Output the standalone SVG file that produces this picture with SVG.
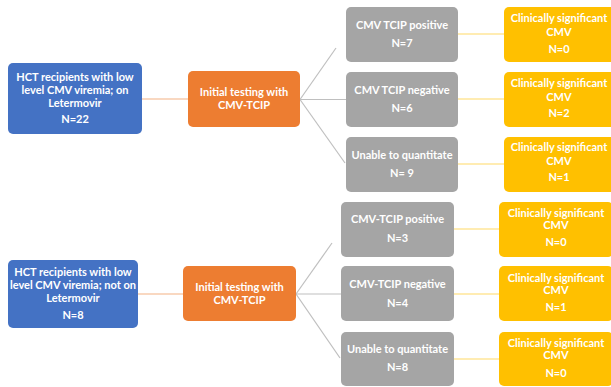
<svg xmlns="http://www.w3.org/2000/svg" width="611" height="387" viewBox="0 0 611 387">
<style>
text{font-family:Lato,"Open Sans","Liberation Sans",sans-serif;font-weight:bold;font-size:11px;fill:#fff;text-anchor:middle}
.blue{fill:#4472C4}.orange{fill:#ED7D31}.gray{fill:#A5A5A5}.yellow{fill:#FFC000}
.c1{stroke:#F4B183;stroke-width:1.2;fill:none}
.c2{stroke:#BFBFBF;stroke-width:1.2;fill:none}
.c3{stroke:#FFD966;stroke-width:1.2;fill:none}
</style>
<rect width="611" height="387" fill="#fff"/>
<g id="connectors">
<line class="c1" x1="142" y1="99" x2="188" y2="99"/>
<line class="c2" x1="300" y1="99.5" x2="336" y2="48"/>
<line class="c2" x1="300" y1="99.5" x2="346" y2="99.5"/>
<line class="c2" x1="300" y1="99.5" x2="345" y2="163"/>
<line class="c3" x1="458" y1="34" x2="504" y2="34"/>
<line class="c3" x1="458" y1="99" x2="504" y2="99"/>
<line class="c3" x1="458" y1="164" x2="504" y2="164"/>
<line class="c1" x1="138" y1="294" x2="183" y2="294"/>
<line class="c2" x1="296" y1="294" x2="332" y2="243"/>
<line class="c2" x1="296" y1="294" x2="341" y2="294"/>
<line class="c2" x1="296" y1="294" x2="340" y2="358"/>
<line class="c3" x1="454" y1="229" x2="499" y2="229"/>
<line class="c3" x1="454" y1="294" x2="499" y2="294"/>
<line class="c3" x1="454" y1="359" x2="499" y2="359"/>
</g>
<g id="blue1"><rect class="blue" x="8" y="63" width="134" height="71" rx="5"/>
<text x="75" y="81">HCT recipients with low</text><text x="75" y="94">level CMV viremia; on</text><text x="75" y="107">Letermovir</text><text x="75" y="123">N=22</text></g>
<g id="orange1"><rect class="orange" x="188" y="71" width="112" height="56" rx="5"/>
<text x="244" y="96">Initial testing with</text><text x="244" y="109">CMV-TCIP</text></g>
<g id="gray1"><rect class="gray" x="346" y="7" width="112" height="55" rx="5"/>
<text x="402" y="29">CMV TCIP positive</text><text x="402" y="47">N=7</text></g>
<g id="gray2"><rect class="gray" x="346" y="72" width="112" height="55" rx="5"/>
<text x="402" y="94">CMV TCIP negative</text><text x="402" y="112">N=6</text></g>
<g id="gray3"><rect class="gray" x="346" y="137" width="112" height="55" rx="5"/>
<text x="402" y="159">Unable to quantitate</text><text x="402" y="177">N= 9</text></g>
<g id="yellow1"><rect class="yellow" x="504" y="7" width="114" height="55" rx="5"/>
<text x="559" y="22">Clinically significant</text><text x="559" y="36">CMV</text><text x="559" y="53">N=0</text></g>
<g id="yellow2"><rect class="yellow" x="504" y="72" width="114" height="55" rx="5"/>
<text x="559" y="87">Clinically significant</text><text x="559" y="101">CMV</text><text x="559" y="117">N=2</text></g>
<g id="yellow3"><rect class="yellow" x="504" y="137" width="114" height="55" rx="5"/>
<text x="559" y="151">Clinically significant</text><text x="559" y="165">CMV</text><text x="559" y="181">N=1</text></g>
<g id="blue2"><rect class="blue" x="8" y="260" width="130" height="68" rx="5"/>
<text x="73" y="276">HCT recipients with low</text><text x="73" y="289">level CMV viremia; not on</text><text x="73" y="302">Letermovir</text><text x="73" y="319">N=8</text></g>
<g id="orange2"><rect class="orange" x="183" y="266" width="113" height="55" rx="5"/>
<text x="239.5" y="291">Initial testing with</text><text x="239.5" y="304">CMV-TCIP</text></g>
<g id="gray4"><rect class="gray" x="341" y="202" width="113" height="55" rx="5"/>
<text x="397.5" y="223">CMV-TCIP positive</text><text x="397.5" y="242">N=3</text></g>
<g id="gray5"><rect class="gray" x="341" y="266" width="113" height="55" rx="5"/>
<text x="397.5" y="288">CMV-TCIP negative</text><text x="397.5" y="307">N=4</text></g>
<g id="gray6"><rect class="gray" x="341" y="332" width="113" height="54" rx="5"/>
<text x="397.5" y="353">Unable to quantitate</text><text x="397.5" y="371">N=8</text></g>
<g id="yellow4"><rect class="yellow" x="499" y="202" width="114" height="55" rx="5"/>
<text x="556" y="217">Clinically significant</text><text x="556" y="229">CMV</text><text x="556" y="246">N=0</text></g>
<g id="yellow5"><rect class="yellow" x="499" y="266" width="114" height="55" rx="5"/>
<text x="556" y="282">Clinically significant</text><text x="556" y="294">CMV</text><text x="556" y="311">N=1</text></g>
<g id="yellow6"><rect class="yellow" x="499" y="332" width="114" height="54" rx="5"/>
<text x="556" y="347">Clinically significant</text><text x="556" y="359">CMV</text><text x="556" y="377">N=0</text></g>
</svg>
